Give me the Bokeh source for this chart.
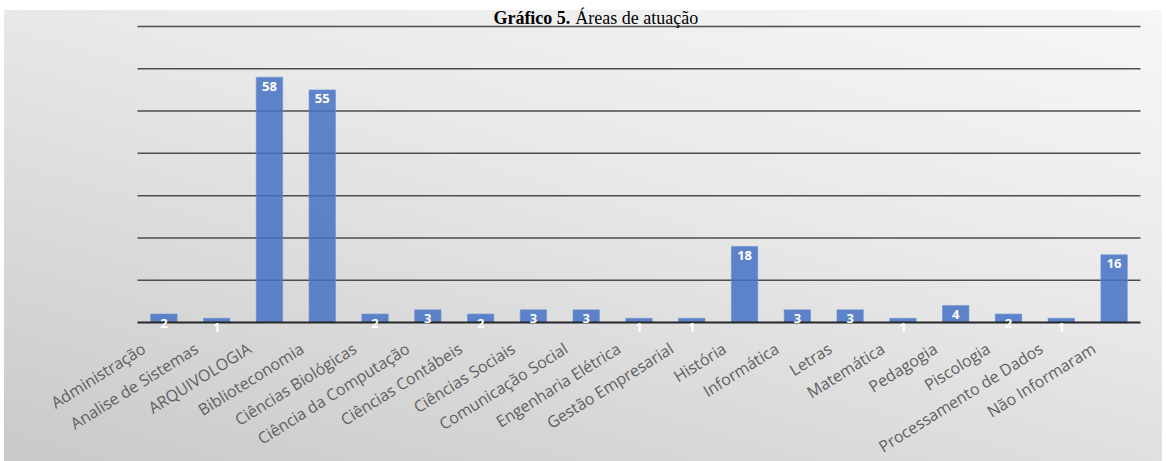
from bokeh.plotting import figure
from bokeh.models import Range1d, ColumnDataSource, LabelSet, Label
from bokeh.core.properties import value
from bokeh.embed import file_html
from bokeh.resources import INLINE

categories = [
    "Administração", "Analise de Sistemas", "ARQUIVOLOGIA", "Biblioteconomia",
    "Ciências Biológicas", "Ciência da Computação", "Ciências Contábeis",
    "Ciências Sociais", "Comunicação Social", "Engenharia Elétrica",
    "Gestão Empresarial", "História", "Informática", "Letras", "Matemática",
    "Pedagogia", "Piscologia", "Processamento de Dados", "Não Informaram",
]
counts = [2, 1, 58, 55, 2, 3, 2, 3, 3, 1, 1, 18, 3, 3, 1, 4, 2, 1, 16]
grid_ticks = [10, 20, 30, 40, 50, 60, 70]
title_bold = "Gráfico 5."
title_rest = "Áreas de atuação"

n = len(categories)
xpos = [i + 0.5 for i in range(n)]   # categorical slot centres
source = ColumnDataSource(dict(x=xpos, val=counts, lbl=[str(v) for v in counts]))

# frame spans the whole figure; the chart area is placed by the ranges
p = figure(
    x_range=Range1d(-2.595, n + 0.417),
    y_range=Range1d(-32.87, 76.15),
    width=1162, height=461,
    output_backend="svg", toolbar_location=None,
    min_border_left=0, min_border_right=0, min_border_top=0, min_border_bottom=0,
)
p.border_fill_color = None
p.background_fill_color = None
p.outline_line_color = None
p.styles = {"background": (
    "linear-gradient(#ffffff,#ffffff) 0 0/100% 10px no-repeat, "
    "linear-gradient(#ffffff,#ffffff) 0 0/4px 100% no-repeat, "
    "linear-gradient(196deg, #f7f7f7 0%, #e9e9e9 40%, #c9c9c9 100%)")}
p.xaxis.visible = False
p.yaxis.visible = False
p.xgrid.visible = False
p.ygrid.visible = False

# horizontal gridlines across the category span
p.segment(x0=[0] * len(grid_ticks), x1=[n] * len(grid_ticks), y0=grid_ticks, y1=grid_ticks,
          line_color="#4d4d4d", line_width=1.5)

p.vbar(x="x", top="val", width=0.5, source=source,
       fill_color="#4472C4", fill_alpha=0.85, line_color="#6a8fd0", line_alpha=0.6)

# baseline
p.segment(x0=[0], x1=[n], y0=[0], y1=[0], line_color="#262626", line_width=2)

labels = LabelSet(x="x", y="val", text="lbl", source=source, y_offset=-9,
                  text_align="center", text_baseline="middle",
                  text_color="white", text_font=value("Open Sans"),
                  text_font_style="bold", text_font_size="13px")
p.add_layout(labels)

for xi, cat in zip(xpos, categories):
    p.add_layout(Label(x=xi, y=0, y_offset=-15, x_offset=-26, text=cat, angle=0.56,
                       text_align="right", text_baseline="top",
                       text_font="Open Sans", text_font_size="16px", text_color="#5f5f5f"))

p.add_layout(Label(x=8.2, y=71.9, text=title_bold, text_align="right",
                   text_baseline="alphabetic", text_font="Liberation Serif",
                   text_font_style="bold", text_font_size="18px", text_color="black"))
p.add_layout(Label(x=8.2, y=71.9, x_offset=5, text=title_rest, text_align="left",
                   text_baseline="alphabetic", text_font="Liberation Serif",
                   text_font_size="18px", text_color="black"))

open("out.html", "w").write(file_html(p, INLINE))
